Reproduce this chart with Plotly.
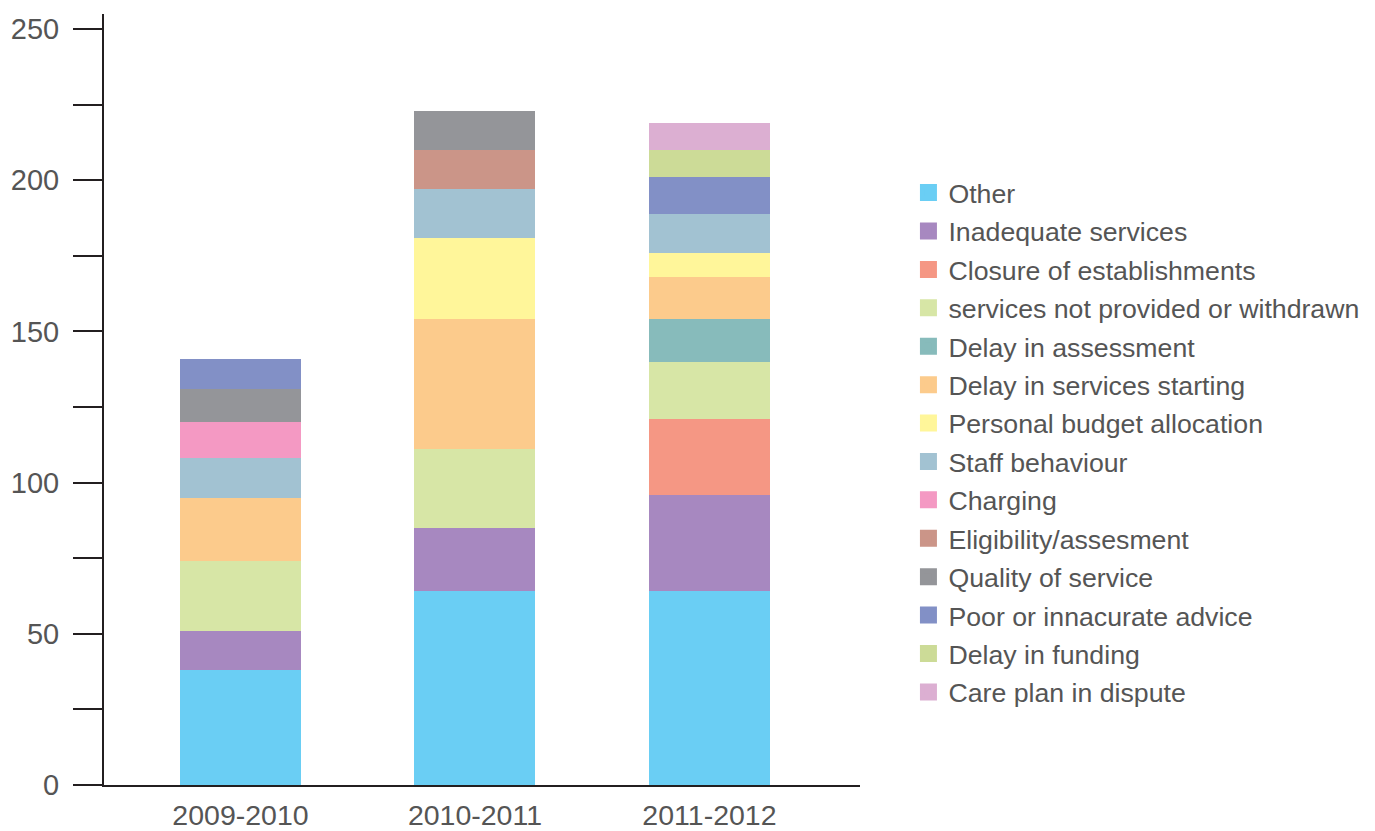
import plotly.graph_objects as go

years = ["2009-2010", "2010-2011", "2011-2012"]

categories = [
    "Other",
    "Inadequate services",
    "Closure of establishments",
    "services not provided or withdrawn",
    "Delay in assessment",
    "Delay in services starting",
    "Personal budget allocation",
    "Staff behaviour",
    "Charging",
    "Eligibility/assesment",
    "Quality of service",
    "Poor or innacurate advice",
    "Delay in funding",
    "Care plan in dispute",
]

other = [38, 64, 64]
inadequate = [13, 21, 32]
closure = [0, 0, 25]
not_provided = [23, 26, 19]
delay_assessment = [0, 0, 14]
delay_starting = [21, 43, 14]
personal_budget = [0, 27, 8]
staff_behaviour = [13, 16, 13]
charging = [12, 0, 0]
eligibility = [0, 13, 0]
quality = [11, 13, 0]
poor_advice = [10, 0, 12]
delay_funding = [0, 0, 9]
care_plan = [0, 0, 9]

series = [other, inadequate, closure, not_provided, delay_assessment,
          delay_starting, personal_budget, staff_behaviour, charging,
          eligibility, quality, poor_advice, delay_funding, care_plan]

colors = ["#6ACEF4", "#A788C0", "#F59784", "#D7E6A6", "#87BBBB",
          "#FCCB8C", "#FFF69A", "#A2C2D2", "#F499C3", "#CB9588",
          "#949599", "#8290C6", "#CCDB97", "#DCAFD2"]

fig = go.Figure()
for name, vals, col in zip(categories, series, colors):
    fig.add_trace(go.Bar(
        x=years, y=vals, name=name,
        legendgroup=name, showlegend=False,
        marker=dict(color=col, line=dict(width=0)),
        width=0.516,
    ))
# legend-only entries (larger swatches)
for name, col in zip(categories, colors):
    fig.add_trace(go.Bar(
        x=years, y=[None] * len(years), name=name,
        legendgroup=name, showlegend=True,
        marker=dict(color=col, line=dict(width=7, color=col)),
        width=0.516, hoverinfo="skip",
    ))

font_family = "Liberation Sans, Arial, sans-serif"
fig.update_layout(
    barmode="stack",
    width=1367, height=823,
    margin=dict(l=96, r=515, t=6.3, b=45.7, autoexpand=False),
    paper_bgcolor="white",
    plot_bgcolor="white",
    font=dict(family=font_family, color="#555555"),
    showlegend=True,
    legend=dict(
        traceorder="grouped",
        tracegroupgap=0.7,
        xref="container", yref="container",
        x=0.6587, xanchor="left",
        y=0.8047, yanchor="top",
        maxheight=700,
        font=dict(size=26.7, color="#555555", family=font_family),
        bgcolor="rgba(0,0,0,0)",
        borderwidth=0,
    ),
    xaxis=dict(
        range=[-0.582, 2.642],
        automargin=False,
        showline=True, linecolor="#231F20", linewidth=2,
        ticks="", showgrid=False, zeroline=False,
        tickfont=dict(size=28.5, color="#555555"),
        ticklabelstandoff=4,
    ),
    yaxis=dict(
        range=[0, 255],
        automargin=False,
        showline=True, linecolor="#231F20", linewidth=2,
        tickmode="linear", tick0=0, dtick=50,
        ticks="outside", ticklen=29, tickwidth=2, tickcolor="#231F20",
        minor=dict(dtick=25, ticks="outside", ticklen=29, tickwidth=2, tickcolor="#231F20", showgrid=False),
        showgrid=False, zeroline=False,
        tickfont=dict(size=29, color="#555555"),
        ticklabelstandoff=8,
    ),
)

fig.write_html("out.html")
